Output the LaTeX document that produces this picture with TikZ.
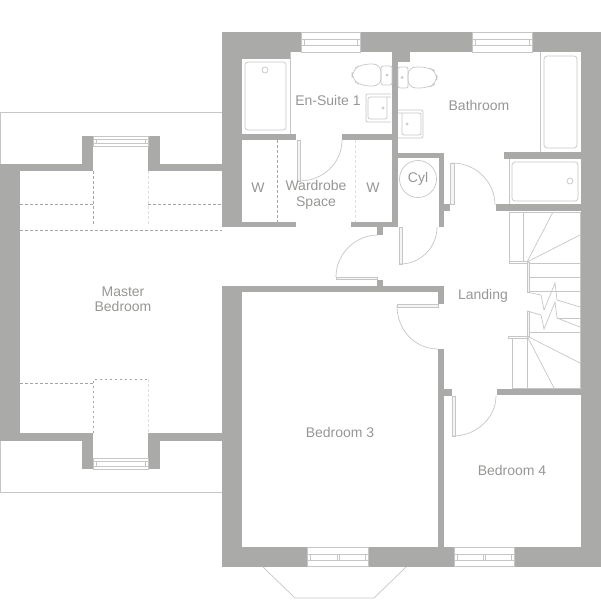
\documentclass[tikz,border=0pt]{standalone}
\usepackage{fontspec}
\setmainfont{Liberation Sans}
\usepackage{xcolor}
\definecolor{wallgrey}{RGB}{170,170,168}
\definecolor{linegrey}{RGB}{198,198,198}
\definecolor{dashgrey}{RGB}{165,165,165}
\definecolor{dashpale}{RGB}{222,222,222}
\definecolor{labelgrey}{RGB}{150,150,148}
\tikzset{
  wall/.style={fill=wallgrey},
  fitting/.style={draw=linegrey, line width=0.7pt},
  leaf/.style={draw=linegrey, line width=0.7pt, fill=black!4},
  overhead/.style={draw=dashgrey, line width=0.7pt, dash pattern=on 2.5pt off 2.5pt},
  overheadpale/.style={draw=dashpale, line width=0.7pt, dash pattern=on 2.5pt off 2.5pt},
  roomlabel/.style={text=labelgrey, font=\fontsize{14}{15.5}\selectfont, align=center, inner sep=0pt}
}
\begin{document}
\begin{tikzpicture}[x=1pt, y=-1pt]
\useasboundingbox (0,0) rectangle (601,599);
% Walls
\foreach \xa/\ya/\xb/\yb in {
    222/32/301/52, 360/32/472/52, 532/32/601/52,
    222/52/242/227, 242/52/290/59, 392/52/398/227, 398/52/410/62,
    581/52/601/567, 504/152/581/159, 496/204/581/211,
    242/134/296/140, 342/134/392/140, 392/153/444/158, 439/158/444/227, 444/204/450/211,
    242/222/296/227, 351/222/392/227, 377/227/383/235, 377/280/383/286,
    222/286/444/292, 438/292/444/304, 222/292/242/567, 242/547/307/567, 368/547/454/567, 514/547/581/567,
    438/349/444/547, 444/389/452/396, 497/389/581/395,
    0/164/20/441, 20/164/82/171, 160/164/222/171, 82/136/93/171, 148/136/160/171,
    20/433/82/441, 160/433/222/441, 82/433/93/469, 148/433/160/469} {
    \fill[wall] (\xa,\ya) rectangle (\xb,\yb);
}
% Lines outside the house
\draw[fitting] (0.5,164) -- (0.5,112.5) -- (222,112.5);
\draw[fitting] (0.5,441) -- (0.5,492.5) -- (222,492.5);
\draw[fitting] (263,567) -- (295,598) -- (374,598) -- (406,567);
% Windows, top and bottom
\foreach \xa/\xb in {301/360, 472/532} {
    \draw[fitting] (\xa,32.5) rectangle (\xb,52);
    \draw[fitting] (\xa,39) -- (\xb,39) (\xa,45) -- (\xb,45);
    \draw[fitting] (\xa+3,39) -- (\xa+3,45) (\xb-3,39) -- (\xb-3,45);
}
\foreach \xa/\xb/\xm in {307/368/338, 454/514/484} {
    \draw[fitting] (\xa,547) rectangle (\xb,566.5);
    \draw[fitting] (\xa,554) -- (\xb,554) (\xa,560) -- (\xb,560);
    \draw[fitting] (\xa+3,554) -- (\xa+3,560) (\xb-3,554) -- (\xb-3,560) (\xm-1,554) -- (\xm-1,560) (\xm+1,554) -- (\xm+1,560);
}
\draw[fitting] (93,136) rectangle (148,146);
\draw[fitting] (93,139) -- (148,139) (96,139) -- (96,143) (145,139) -- (145,143) (93,143) -- (148,143);
\draw[fitting] (93,458) rectangle (148,469);
\draw[fitting] (93,461) -- (148,461) (96,461) -- (96,466) (145,461) -- (145,466) (93,466) -- (148,466);
% Doors
\draw[leaf] (297,140) rectangle (300,181);
\draw[fitting] (299,181) .. controls (323,181) and (342,163) .. (342,140);
\draw[leaf] (450,163) rectangle (454,204);
\draw[fitting] (452,163) .. controls (476,163) and (495,182) .. (495,205);
\draw[leaf] (399,227) rectangle (402,264);
\draw[fitting] (400,264) .. controls (421,264) and (437,247) .. (437,227);
\draw[leaf] (336,277) rectangle (377,279.5);
\draw[fitting] (336,277) .. controls (336,254) and (355,235) .. (378,235);
\draw[leaf] (397,304) rectangle (438,307);
\draw[fitting] (397,306) .. controls (397,330) and (415,349) .. (438,349);
\draw[leaf] (452,396) rectangle (455,436);
\draw[fitting] (453,436) .. controls (477,436) and (496,417) .. (496,396);
% En-suite fittings
\draw[fitting] (290,52) -- (290,134);
\draw[fitting, rounded corners=3pt] (245,62) rectangle (286,130);
\draw[fitting] (265,70) circle (3);
\draw[fitting, rounded corners=8pt] (381,64) -- (362,64) -- (352,70) -- (352,80) -- (362,86) -- (381,86) -- cycle;
\draw[fitting, rounded corners=2pt] (381,66) rectangle (392,85);
\draw[fitting] (387,75) circle (1);
\draw[fitting, rounded corners=2pt] (391,94) -- (366,94) -- (366,122) -- (391,122);
\draw[fitting, rounded corners=2pt] (391,97) -- (368,97) -- (368,119) -- (387,119) -- (387,97);
\draw[fitting] (383,108) circle (1);
% Bathroom fittings
\draw[fitting] (540,52) -- (540,152);
\draw[fitting, rounded corners=3pt] (544,56) rectangle (577,148);
\draw[fitting] (509,159) -- (509,204);
\draw[fitting, rounded corners=3pt] (512,162) rectangle (578,201);
\draw[fitting] (570,181) circle (3);
\draw[fitting, rounded corners=8pt] (408,67) -- (428,67) -- (437,72) -- (437,83) -- (428,88) -- (408,88) -- cycle;
\draw[fitting, rounded corners=2pt] (398,67) rectangle (408,88);
\draw[fitting] (402,77.5) circle (1);
\draw[fitting, rounded corners=2pt] (398,110) -- (423,110) -- (423,138) -- (398,138);
\draw[fitting, rounded corners=2pt] (398,113) -- (421,113) -- (421,135) -- (402,135) -- (402,113);
\draw[fitting] (407,124) circle (1);
% Stairs
\draw[fitting] (509,212) -- (580,212) -- (580,388) -- (512,388);
\draw[fitting] (509,212) -- (509,262) (523,212) -- (523,262);
\draw[fitting] (509,261) rectangle (527,263);
\draw[fitting] (527,262) -- (553,212) (527,262) -- (580,235);
\draw[fitting] (527,263) -- (580,263) (529,277) -- (580,277) (529,291) -- (580,291);
\draw[leaf] (527,262) rectangle (529,292);
\draw[fitting] (527,292) -- (541,295) -- (544,310) -- (555,283) -- (557,300) -- (580,307);
\draw[fitting] (527,311) -- (541,315) -- (544,329) -- (555,302) -- (557,318) -- (580,327);
\draw[fitting] (557,318) -- (580,318);
\draw[fitting] (529,332) -- (580,332);
\draw[leaf] (527,311) rectangle (529,336);
\draw[fitting] (508,336) rectangle (527,338);
\draw[fitting] (512,338) -- (512,388) (527,338) -- (527,388);
\draw[fitting] (527,336) -- (580,363) (527,336) -- (554,388);
% Dashed lines overhead
\draw[overhead] (20,204) -- (93,204) -- (93,224);
\draw[overhead] (93,171) -- (93,204);
\draw[overhead] (148,204) -- (222,204);
\draw[overhead] (20,230) -- (222,230);
\draw[overheadpale] (148,171) -- (148,224);
\draw[overhead] (20,383) -- (93.5,383);
\draw[overhead] (93.5,433) -- (93.5,379) -- (148,379);
\draw[overheadpale] (148,379) -- (148,433);
\draw[overhead] (277,140) -- (277,222);
\draw[overheadpale] (355,140) -- (355,222);
% Cylinder
\node[circle, draw=linegrey, line width=0.7pt, minimum size=37pt, inner sep=0pt, text=labelgrey, font=\fontsize{14}{15.5}\selectfont] (cyl) at (418,179) {Cyl};
% Room labels
\node[roomlabel] (ensuite) at (328,100) {En-Suite 1};
\node[roomlabel] (bathroom) at (479,105) {Bathroom};
\node[roomlabel] (wleft) at (258,188) {W};
\node[roomlabel] (wright) at (373,188) {W};
\node[roomlabel] (wardrobe) at (316,195) {Wardrobe\\Space};
\node[roomlabel] (master) at (123,299) {Master\\Bedroom};
\node[roomlabel] (landing) at (483,296) {Landing};
\node[roomlabel] (bedthree) at (340,432) {Bedroom 3};
\node[roomlabel] (bedfour) at (512,470) {Bedroom 4};
\end{tikzpicture}
\end{document}
